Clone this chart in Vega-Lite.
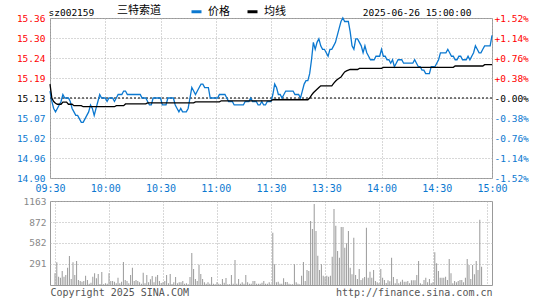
{
"$schema": "https://vega.github.io/schema/vega-lite/v6.json",
"background": "white",
"padding": {"left": 15, "top": 5, "right": 5, "bottom": 3},
"bounds": "flush",
"spacing": 23,
"config": {
  "view": {"stroke": "#999999", "strokeWidth": 1},
  "axis": {"ticks": false, "tickSize": 0, "domain": false, "gridColor": "#b0b0b0", "gridDash": [1, 2], "gridWidth": 1, "labelFont": "DejaVu Sans Mono", "labelFontSize": 9.5, "titleFont": "DejaVu Sans Mono", "titleFontWeight": "normal", "titleColor": "#000000", "titleFontSize": 9.5}
},
"datasets": {"d": [
{"m":0,"价格":15.15,"均线":15.17,"v":161},
{"m":1,"价格":15.12,"均线":15.13,"v":314},
{"m":2,"价格":15.10,"均线":15.12,"v":115},
{"m":3,"价格":15.09,"均线":15.115,"v":101},
{"m":4,"价格":15.10,"均线":15.112,"v":194},
{"m":5,"价格":15.11,"均线":15.112,"v":115},
{"m":6,"价格":15.12,"均线":15.112,"v":138},
{"m":7,"价格":15.14,"均线":15.118,"v":240},
{"m":8,"价格":15.13,"均线":15.118,"v":401},
{"m":9,"价格":15.13,"均线":15.118,"v":83},
{"m":10,"价格":15.13,"均线":15.112,"v":314},
{"m":11,"价格":15.12,"均线":15.112,"v":138},
{"m":12,"价格":15.10,"均线":15.112,"v":332},
{"m":13,"价格":15.09,"均线":15.108,"v":69},
{"m":14,"价格":15.08,"均线":15.108,"v":55},
{"m":15,"价格":15.08,"均线":15.108,"v":46},
{"m":16,"价格":15.07,"均线":15.108,"v":55},
{"m":17,"价格":15.06,"均线":15.108,"v":129},
{"m":18,"价格":15.06,"均线":15.105,"v":69},
{"m":19,"价格":15.07,"均线":15.105,"v":18},
{"m":20,"价格":15.08,"均线":15.105,"v":32},
{"m":21,"价格":15.09,"均线":15.105,"v":115},
{"m":22,"价格":15.11,"均线":15.105,"v":161},
{"m":23,"价格":15.10,"均线":15.105,"v":92},
{"m":24,"价格":15.08,"均线":15.105,"v":152},
{"m":25,"价格":15.10,"均线":15.105,"v":14},
{"m":26,"价格":15.12,"均线":15.105,"v":180},
{"m":27,"价格":15.14,"均线":15.105,"v":9},
{"m":28,"价格":15.13,"均线":15.105,"v":23},
{"m":29,"价格":15.13,"均线":15.105,"v":18},
{"m":30,"价格":15.13,"均线":15.105,"v":161},
{"m":31,"价格":15.12,"均线":15.105,"v":55},
{"m":32,"价格":15.13,"均线":15.105,"v":55},
{"m":33,"价格":15.13,"均线":15.105,"v":46},
{"m":34,"价格":15.13,"均线":15.105,"v":23},
{"m":35,"价格":15.12,"均线":15.105,"v":101},
{"m":36,"价格":15.13,"均线":15.108,"v":23},
{"m":37,"价格":15.14,"均线":15.108,"v":46},
{"m":38,"价格":15.14,"均线":15.108,"v":318},
{"m":39,"价格":15.14,"均线":15.108,"v":69},
{"m":40,"价格":15.15,"均线":15.108,"v":55},
{"m":41,"价格":15.15,"均线":15.113,"v":23},
{"m":42,"价格":15.14,"均线":15.113,"v":138},
{"m":43,"价格":15.14,"均线":15.113,"v":240},
{"m":44,"价格":15.14,"均线":15.113,"v":55},
{"m":45,"价格":15.14,"均线":15.113,"v":69},
{"m":46,"价格":15.14,"均线":15.113,"v":55},
{"m":47,"价格":15.14,"均线":15.113,"v":37},
{"m":48,"价格":15.14,"均线":15.113,"v":18},
{"m":49,"价格":15.14,"均线":15.113,"v":171},
{"m":50,"价格":15.13,"均线":15.113,"v":23},
{"m":51,"价格":15.13,"均线":15.113,"v":138},
{"m":52,"价格":15.13,"均线":15.113,"v":37},
{"m":53,"价格":15.12,"均线":15.116,"v":78},
{"m":54,"价格":15.11,"均线":15.116,"v":125},
{"m":55,"价格":15.11,"均线":15.116,"v":37},
{"m":56,"价格":15.13,"均线":15.116,"v":115},
{"m":57,"价格":15.13,"均线":15.116,"v":138},
{"m":58,"价格":15.13,"均线":15.116,"v":55},
{"m":59,"价格":15.13,"均线":15.116,"v":28},
{"m":60,"价格":15.13,"均线":15.116,"v":37},
{"m":61,"价格":15.11,"均线":15.116,"v":55},
{"m":62,"价格":15.11,"均线":15.116,"v":138},
{"m":63,"价格":15.11,"均线":15.116,"v":23},
{"m":64,"价格":15.13,"均线":15.116,"v":152},
{"m":65,"价格":15.13,"均线":15.116,"v":14},
{"m":66,"价格":15.13,"均线":15.116,"v":37},
{"m":67,"价格":15.13,"均线":15.116,"v":111},
{"m":68,"价格":15.11,"均线":15.116,"v":23},
{"m":69,"价格":15.10,"均线":15.116,"v":37},
{"m":70,"价格":15.09,"均线":15.116,"v":37},
{"m":71,"价格":15.10,"均线":15.116,"v":55},
{"m":72,"价格":15.09,"均线":15.116,"v":18},
{"m":73,"价格":15.09,"均线":15.116,"v":23},
{"m":74,"价格":15.09,"均线":15.116,"v":9},
{"m":75,"价格":15.10,"均线":15.116,"v":111},
{"m":76,"价格":15.13,"均线":15.116,"v":443},
{"m":77,"价格":15.16,"均线":15.116,"v":222},
{"m":78,"价格":15.15,"均线":15.116,"v":83},
{"m":79,"价格":15.14,"均线":15.119,"v":55},
{"m":80,"价格":15.15,"均线":15.119,"v":281},
{"m":81,"价格":15.16,"均线":15.119,"v":152},
{"m":82,"价格":15.17,"均线":15.119,"v":83},
{"m":83,"价格":15.17,"均线":15.119,"v":37},
{"m":84,"价格":15.16,"均线":15.119,"v":18},
{"m":85,"价格":15.16,"均线":15.119,"v":37},
{"m":86,"价格":15.16,"均线":15.119,"v":18},
{"m":87,"价格":15.13,"均线":15.119,"v":111},
{"m":88,"价格":15.13,"均线":15.119,"v":18},
{"m":89,"价格":15.13,"均线":15.119,"v":9},
{"m":90,"价格":15.13,"均线":15.119,"v":37},
{"m":91,"价格":15.13,"均线":15.119,"v":18},
{"m":92,"价格":15.14,"均线":15.119,"v":9},
{"m":93,"价格":15.14,"均线":15.122,"v":83},
{"m":94,"价格":15.14,"均线":15.122,"v":32},
{"m":95,"价格":15.14,"均线":15.122,"v":97},
{"m":96,"价格":15.13,"均线":15.122,"v":9},
{"m":97,"价格":15.12,"均线":15.122,"v":9},
{"m":98,"价格":15.12,"均线":15.122,"v":138},
{"m":99,"价格":15.12,"均线":15.122,"v":18},
{"m":100,"价格":15.11,"均线":15.122,"v":346},
{"m":101,"价格":15.11,"均线":15.122,"v":18},
{"m":102,"价格":15.11,"均线":15.122,"v":83},
{"m":103,"价格":15.11,"均线":15.122,"v":18},
{"m":104,"价格":15.11,"均线":15.122,"v":37},
{"m":105,"价格":15.11,"均线":15.122,"v":18},
{"m":106,"价格":15.12,"均线":15.122,"v":138},
{"m":107,"价格":15.12,"均线":15.122,"v":37},
{"m":108,"价格":15.12,"均线":15.122,"v":18},
{"m":109,"价格":15.13,"均线":15.122,"v":18},
{"m":110,"价格":15.12,"均线":15.122,"v":55},
{"m":111,"价格":15.12,"均线":15.122,"v":55},
{"m":112,"价格":15.12,"均线":15.122,"v":18},
{"m":113,"价格":15.11,"均线":15.122,"v":18},
{"m":114,"价格":15.11,"均线":15.122,"v":18},
{"m":115,"价格":15.12,"均线":15.122,"v":32},
{"m":116,"价格":15.11,"均线":15.122,"v":55},
{"m":117,"价格":15.11,"均线":15.122,"v":18},
{"m":118,"价格":15.12,"均线":15.122,"v":18},
{"m":119,"价格":15.12,"均线":15.122,"v":37},
{"m":120,"价格":15.12,"均线":15.122,"v":9},
{"m":121,"价格":15.14,"均线":15.125,"v":724},
{"m":122,"价格":15.17,"均线":15.125,"v":286},
{"m":123,"价格":15.16,"均线":15.125,"v":37},
{"m":124,"价格":15.14,"均线":15.125,"v":46},
{"m":125,"价格":15.14,"均线":15.125,"v":18},
{"m":126,"价格":15.13,"均线":15.125,"v":18},
{"m":127,"价格":15.14,"均线":15.125,"v":92},
{"m":128,"价格":15.15,"均线":15.125,"v":41},
{"m":129,"价格":15.15,"均线":15.125,"v":41},
{"m":130,"价格":15.15,"均线":15.125,"v":18},
{"m":131,"价格":15.15,"均线":15.125,"v":9},
{"m":132,"价格":15.15,"均线":15.125,"v":9},
{"m":133,"价格":15.14,"均线":15.125,"v":286},
{"m":134,"价格":15.14,"均线":15.125,"v":37},
{"m":135,"价格":15.14,"均线":15.125,"v":18},
{"m":136,"价格":15.13,"均线":15.125,"v":9},
{"m":137,"价格":15.15,"均线":15.125,"v":129},
{"m":138,"价格":15.17,"均线":15.125,"v":318},
{"m":139,"价格":15.18,"均线":15.125,"v":55},
{"m":140,"价格":15.18,"均线":15.125,"v":208},
{"m":141,"价格":15.20,"均线":15.13,"v":194},
{"m":142,"价格":15.24,"均线":15.138,"v":886},
{"m":143,"价格":15.29,"均线":15.145,"v":775},
{"m":144,"价格":15.27,"均线":15.15,"v":1121},
{"m":145,"价格":15.29,"均线":15.155,"v":748},
{"m":146,"价格":15.30,"均线":15.16,"v":406},
{"m":147,"价格":15.28,"均线":15.165,"v":208},
{"m":148,"价格":15.27,"均线":15.165,"v":286},
{"m":149,"价格":15.27,"均线":15.165,"v":129},
{"m":150,"价格":15.26,"均线":15.165,"v":115},
{"m":151,"价格":15.25,"均线":15.165,"v":129},
{"m":152,"价格":15.27,"均线":15.165,"v":115},
{"m":153,"价格":15.27,"均线":15.165,"v":129},
{"m":154,"价格":15.28,"均线":15.172,"v":392},
{"m":155,"价格":15.29,"均线":15.178,"v":1052},
{"m":156,"价格":15.31,"均线":15.183,"v":821},
{"m":157,"价格":15.33,"均线":15.187,"v":471},
{"m":158,"价格":15.35,"均线":15.19,"v":378},
{"m":159,"价格":15.36,"均线":15.198,"v":803},
{"m":160,"价格":15.35,"均线":15.205,"v":803},
{"m":161,"价格":15.35,"均线":15.208,"v":517},
{"m":162,"价格":15.35,"均线":15.21,"v":577},
{"m":163,"价格":15.32,"均线":15.212,"v":748},
{"m":164,"价格":15.28,"均线":15.212,"v":240},
{"m":165,"价格":15.27,"均线":15.212,"v":148},
{"m":166,"价格":15.30,"均线":15.212,"v":655},
{"m":167,"价格":15.30,"均线":15.212,"v":138},
{"m":168,"价格":15.29,"均线":15.215,"v":83},
{"m":169,"价格":15.28,"均线":15.215,"v":222},
{"m":170,"价格":15.26,"均线":15.215,"v":69},
{"m":171,"价格":15.28,"均线":15.215,"v":92},
{"m":172,"价格":15.26,"均线":15.215,"v":111},
{"m":173,"价格":15.25,"均线":15.215,"v":794},
{"m":174,"价格":15.24,"均线":15.215,"v":101},
{"m":175,"价格":15.24,"均线":15.215,"v":185},
{"m":176,"价格":15.24,"均线":15.215,"v":101},
{"m":177,"价格":15.25,"均线":15.215,"v":208},
{"m":178,"价格":15.25,"均线":15.215,"v":55},
{"m":179,"价格":15.25,"均线":15.215,"v":37},
{"m":180,"价格":15.27,"均线":15.215,"v":23},
{"m":181,"价格":15.25,"均线":15.218,"v":222},
{"m":182,"价格":15.25,"均线":15.218,"v":101},
{"m":183,"价格":15.24,"均线":15.218,"v":69},
{"m":184,"价格":15.24,"均线":15.218,"v":28},
{"m":185,"价格":15.23,"均线":15.218,"v":65},
{"m":186,"价格":15.24,"均线":15.218,"v":51},
{"m":187,"价格":15.22,"均线":15.218,"v":378},
{"m":188,"价格":15.23,"均线":15.218,"v":111},
{"m":189,"价格":15.24,"均线":15.218,"v":23},
{"m":190,"价格":15.24,"均线":15.218,"v":83},
{"m":191,"价格":15.24,"均线":15.218,"v":23},
{"m":192,"价格":15.23,"均线":15.218,"v":46},
{"m":193,"价格":15.23,"均线":15.218,"v":74},
{"m":194,"价格":15.23,"均线":15.218,"v":46},
{"m":195,"价格":15.23,"均线":15.218,"v":46},
{"m":196,"价格":15.23,"均线":15.218,"v":55},
{"m":197,"价格":15.23,"均线":15.218,"v":23},
{"m":198,"价格":15.24,"均线":15.218,"v":65},
{"m":199,"价格":15.23,"均线":15.218,"v":65},
{"m":200,"价格":15.22,"均线":15.218,"v":65},
{"m":201,"价格":15.22,"均线":15.218,"v":138},
{"m":202,"价格":15.21,"均线":15.218,"v":332},
{"m":203,"价格":15.21,"均线":15.218,"v":23},
{"m":204,"价格":15.20,"均线":15.218,"v":9},
{"m":205,"价格":15.20,"均线":15.218,"v":69},
{"m":206,"价格":15.20,"均线":15.218,"v":101},
{"m":207,"价格":15.22,"均线":15.218,"v":37},
{"m":208,"价格":15.22,"均线":15.218,"v":83},
{"m":209,"价格":15.22,"均线":15.218,"v":23},
{"m":210,"价格":15.23,"均线":15.218,"v":37},
{"m":211,"价格":15.24,"均线":15.218,"v":452},
{"m":212,"价格":15.26,"均线":15.218,"v":300},
{"m":213,"价格":15.26,"均线":15.218,"v":194},
{"m":214,"价格":15.26,"均线":15.218,"v":101},
{"m":215,"价格":15.26,"均线":15.218,"v":101},
{"m":216,"价格":15.27,"均线":15.218,"v":101},
{"m":217,"价格":15.26,"均线":15.218,"v":115},
{"m":218,"价格":15.25,"均线":15.218,"v":69},
{"m":219,"价格":15.25,"均线":15.218,"v":360},
{"m":220,"价格":15.24,"均线":15.222,"v":161},
{"m":221,"价格":15.24,"均线":15.222,"v":23},
{"m":222,"价格":15.25,"均线":15.222,"v":55},
{"m":223,"价格":15.25,"均线":15.222,"v":37},
{"m":224,"价格":15.24,"均线":15.222,"v":55},
{"m":225,"价格":15.24,"均线":15.222,"v":69},
{"m":226,"价格":15.24,"均线":15.222,"v":69},
{"m":227,"价格":15.25,"均线":15.222,"v":37},
{"m":228,"价格":15.24,"均线":15.222,"v":101},
{"m":229,"价格":15.25,"均线":15.222,"v":360},
{"m":230,"价格":15.26,"均线":15.222,"v":277},
{"m":231,"价格":15.28,"均线":15.222,"v":83},
{"m":232,"价格":15.27,"均线":15.222,"v":277},
{"m":233,"价格":15.26,"均线":15.222,"v":148},
{"m":234,"价格":15.26,"均线":15.222,"v":332},
{"m":235,"价格":15.27,"均线":15.222,"v":208},
{"m":236,"价格":15.28,"均线":15.226,"v":905},
{"m":237,"价格":15.28,"均线":15.226,"v":254},
{"m":238,"价格":15.28,"均线":15.226,"v":0},
{"m":239,"价格":15.28,"均线":15.226,"v":0},
{"m":240,"价格":15.31,"均线":15.226,"v":0}
]},
"vconcat": [
{
  "width": 442, "height": 160,
  "layer": [
    {
      "data": {"values": [{"prev": 15.13}]},
      "mark": {"type": "rule", "color": "#000000", "strokeDash": [2, 2], "strokeWidth": 1},
      "encoding": {
        "y": {"field": "prev", "type": "quantitative",
          "scale": {"domain": [14.9, 15.36], "nice": false, "zero": false},
          "axis": {"orient": "right", "grid": false,
            "values": [14.9, 14.9575, 15.015, 15.0725, 15.13, 15.1875, 15.245, 15.3025, 15.36],
            "labelExpr": "datum.value > 15.131 ? '+' + format((datum.value - 15.13) / 15.13 * 100, '.2f') + '%' : (datum.value < 15.129 ? '-' + format((15.13 - datum.value) / 15.13 * 100, '.2f') + '%' : '-0.00%')",
            "labelColor": {"condition": [{"test": "datum.value > 15.131", "value": "#ff0000"}, {"test": "datum.value < 15.129", "value": "#0b78d0"}], "value": "#000000"},
            "labelPadding": 2,
            "title": "2025-06-26 15:00:00", "titleAngle": 0, "titleAlign": "right", "titleBaseline": "alphabetic", "titleX": -21, "titleY": -3}
        }
      }
    },
    {
      "data": {"name": "d"},
      "transform": [{"fold": ["价格", "均线"], "as": ["series", "price"]}],
      "mark": {"type": "line", "strokeWidth": 1.3},
      "encoding": {
        "x": {"field": "m", "type": "quantitative",
          "scale": {"domain": [0, 240], "nice": false, "zero": false},
          "axis": {"values": [0, 30, 60, 90, 120, 150, 180, 210, 240],
            "labelExpr": "['09:30','10:00','10:30','11:00','11:30','13:30','14:00','14:30','15:00'][round(datum.value / 30)]",
            "labelColor": "#0b78d0", "labelFontSize": 10, "labelPadding": 5, "labelFlush": false, "labelOverlap": false,
            "title": null, "grid": true}
        },
        "y": {"field": "price", "type": "quantitative",
          "scale": {"domain": [14.9, 15.36], "nice": false, "zero": false},
          "axis": {"orient": "left", "grid": true,
            "values": [14.9, 14.9575, 15.015, 15.0725, 15.13, 15.1875, 15.245, 15.3025, 15.36],
            "format": ".2f",
            "labelColor": {"condition": [{"test": "datum.value > 15.131", "value": "#ff0000"}, {"test": "datum.value < 15.129", "value": "#0b78d0"}], "value": "#000000"},
            "labelPadding": 5,
            "title": "sz002159", "titleAngle": 0, "titleAlign": "left", "titleBaseline": "alphabetic", "titleX": -2, "titleY": -3}
        },
        "color": {"field": "series", "type": "nominal",
          "scale": {"domain": ["价格", "均线"], "range": ["#0b78d0", "#000000"]},
          "legend": {"orient": "none", "legendX": 67, "legendY": -13, "direction": "horizontal",
            "title": "三特索道", "titleOrient": "left", "titleFont": "Noto Sans CJK SC", "titleFontSize": 11, "titleFontWeight": "normal", "titleColor": "#000000", "titlePadding": 29,
            "labelFont": "Noto Sans CJK SC", "labelFontSize": 11, "labelColor": "#000000",
            "symbolType": "stroke", "symbolStrokeWidth": 3, "symbolSize": 100, "labelOffset": 5, "columnPadding": 11, "padding": 0}
        }
      }
    }
  ],
  "resolve": {"scale": {"y": "shared"}, "axis": {"y": "independent"}}
},
{
  "width": 442, "height": 84,
  "data": {"name": "d"},
  "mark": {"type": "bar", "color": "#999999", "size": 1},
  "encoding": {
    "x": {"field": "m", "type": "quantitative",
      "scale": {"domain": [0, 240], "nice": false, "zero": false},
      "axis": {"values": [0, 30, 60, 90, 120, 150, 180, 210, 240], "labels": false, "grid": true,
        "title": "http://finance.sina.com.cn", "titleAngle": 0, "titleAlign": "right", "titleBaseline": "alphabetic", "titleX": 442, "titleY": 10, "titleColor": "#555555", "titleFontSize": 10}
    },
    "y": {"field": "v", "type": "quantitative",
      "scale": {"domain": [0, 1163], "nice": false},
      "axis": {"values": [291, 582, 872, 1163], "format": "d", "labelColor": "#888888", "labelPadding": 4, "grid": true,
        "title": "Copyright 2025 SINA.COM", "titleAngle": 0, "titleAlign": "left", "titleBaseline": "alphabetic", "titleX": 0, "titleY": 94, "titleColor": "#555555", "titleFontSize": 10}
    }
  }
}
]
}
